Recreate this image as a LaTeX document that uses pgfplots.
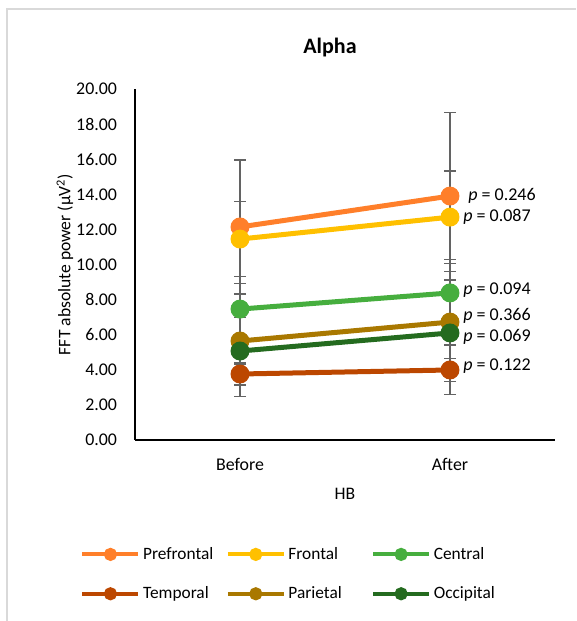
\documentclass[border=0pt]{standalone}
\usepackage{fontspec}
\setmainfont{Carlito}
\usepackage{pgfplots}
\pgfplotsset{compat=1.18}
\usepackage{pgfplotstable}

\definecolor{cPre}{HTML}{FF7F2A}
\definecolor{cFro}{HTML}{FFC000}
\definecolor{cCen}{HTML}{46AE3E}
\definecolor{cTem}{HTML}{BC4700}
\definecolor{cPar}{HTML}{A97800}
\definecolor{cOcc}{HTML}{246B1F}
\definecolor{errgray}{HTML}{636363}
\definecolor{bordergray}{HTML}{D9D9D9}

% x, mean, sd
\pgfplotstableread{
x y e
0.5 12.14 3.81
1.5 13.90 4.77
}\Pre
\pgfplotstableread{
x y e
0.5 11.45 2.13
1.5 12.70 2.63
}\Fro
\pgfplotstableread{
x y e
0.5 7.46 1.47
1.5 8.38 1.92
}\Cen
\pgfplotstableread{
x y e
0.5 3.76 0.63
1.5 3.99 0.66
}\Tem
\pgfplotstableread{
x y e
0.5 5.64 1.35
1.5 6.72 1.30
}\Par
\pgfplotstableread{
x y e
0.5 5.07 2.60
1.5 6.10 3.50
}\Occ

\pgfplotsset{errplot/.style={forget plot, draw=none, mark=none,
  error bars/.cd, y dir=both, y explicit,
  error bar style={draw=errgray, line width=1.1pt},
  error mark options={draw=errgray, rotate=90, mark size=4.5pt, line width=1.1pt}},
  mainplot/.style={#1, line width=3.75pt, mark=*, mark size=5.2pt}}

\begin{document}
\begin{tikzpicture}[x=1pt,y=1pt]
\path[use as bounding box] (0,0) rectangle (432,465.75);
\draw[bordergray, line width=1.2pt] (5.25,0) -- (5.25,459) -- (432,459);
\node[font=\fontsize{16.5}{18}\selectfont\bfseries] at (247.5,429.75) {Alpha};
\begin{axis}[
  at={(101.25pt,135.75pt)}, anchor=origin,
  scale only axis, width=315pt, height=263.25pt,
  xmin=0, xmax=2, ymin=0, ymax=20,
  axis lines=left,
  axis line style={-, black, line width=0.9pt},
  xtick={0.5,1.5}, xticklabels={Before, After},
  ytick={0,2,...,20},
  major tick length=0pt,
  /pgf/number format/assume math mode=true,
  yticklabel style={/pgf/number format/fixed, /pgf/number format/fixed zerofill, /pgf/number format/precision=2, xshift=-10pt},
  tick label style={font=\fontsize{13.4}{15}\selectfont},
  xticklabel style={yshift=-10pt},
  xlabel={HB}, ylabel={FFT absolute power (µV\textsuperscript{2})},
  label style={font=\fontsize{13.2}{15}\selectfont},
  xlabel style={at={(axis description cs:0.5,-0.154)}, anchor=center},
  ylabel style={at={(axis description cs:-0.167,0.5)}, anchor=center},
  legend columns=3,
  legend cell align=left,
  legend style={at={(axis description cs:-0.140,-0.29)}, anchor=north west,
    draw=none, fill=none, font=\fontsize{13}{15}\selectfont, row sep=15pt},
  legend image code/.code={\draw[#1, line width=3pt, mark size=3.4pt, mark repeat=2, mark phase=2] plot coordinates {(0pt,0pt) (21pt,0pt) (42pt,0pt)};},
  clip=false,
]
% error bars
\addplot[errplot] table[x=x, y=y, y error=e] {\Pre};
\addplot[errplot] table[x=x, y=y, y error=e] {\Fro};
\addplot[errplot] table[x=x, y=y, y error=e] {\Cen};
\addplot[errplot] table[x=x, y=y, y error=e] {\Tem};
\addplot[errplot] table[x=x, y=y, y error=e] {\Par};
\addplot[errplot] table[x=x, y=y, y error=e] {\Occ};
% series
\addplot[mainplot=cPre] table[x=x,y=y] {\Pre};
\addlegendentry{\makebox[60pt][l]{Prefrontal}}
\addplot[mainplot=cFro] table[x=x,y=y] {\Fro};
\addlegendentry{\makebox[60pt][l]{Frontal}}
\addplot[mainplot=cCen] table[x=x,y=y] {\Cen};
\addlegendentry{\makebox[60pt][l]{Central}}
\addplot[mainplot=cTem] table[x=x,y=y] {\Tem};
\addlegendentry{\makebox[60pt][l]{Temporal}}
\addplot[mainplot=cPar] table[x=x,y=y] {\Par};
\addlegendentry{\makebox[60pt][l]{Parietal}}
\addplot[mainplot=cOcc] table[x=x,y=y] {\Occ};
\addlegendentry{\makebox[60pt][l]{Occipital}}
% p-value labels
\begin{scope}[every node/.style={anchor=west, font=\fontsize{13.5}{15}\selectfont, inner sep=0pt}]
\node at (axis cs:1.586,13.90) {\textit{p} = 0.246};
\node at (axis cs:1.562,12.70) {\textit{p} = 0.087};
\node at (axis cs:1.562,8.55) {\textit{p} = 0.094};
\node at (axis cs:1.562,7.10) {\textit{p} = 0.366};
\node at (axis cs:1.562,5.90) {\textit{p} = 0.069};
\node at (axis cs:1.562,4.20) {\textit{p} = 0.122};
\end{scope}
\end{axis}
\end{tikzpicture}
\end{document}
